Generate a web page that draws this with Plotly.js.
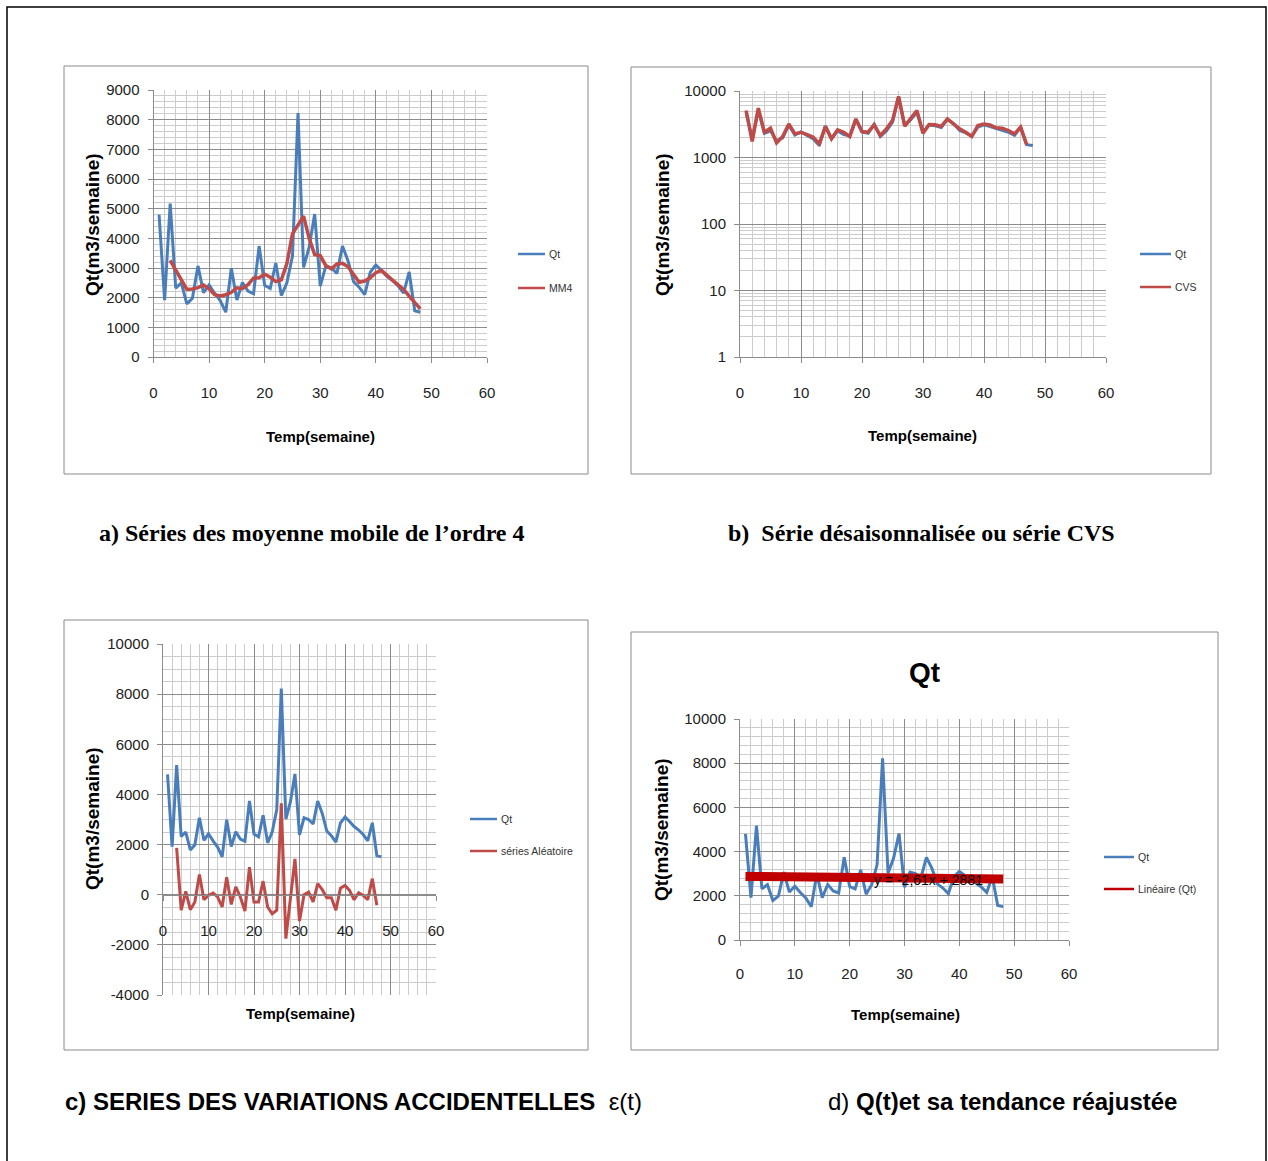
<!DOCTYPE html>
<html>
<head>
<meta charset="utf-8">
<script src="https://cdn.plot.ly/plotly-3.0.1.min.js"></script>
<style>
  html, body { margin: 0; padding: 0; background: #fff; }
  #fig { width: 1268px; height: 1161px; }
</style>
</head>
<body>
<div id="fig"></div>
<script>
// Weekly discharge Qt (m3/semaine), weeks 1..48
const weeks = [1,2,3,4,5,6,7,8,9,10,11,12,13,14,15,16,17,18,19,20,21,22,23,24,
               25,26,27,28,29,30,31,32,33,34,35,36,37,38,39,40,41,42,43,44,45,46,47,48];
const qt = [4800,1920,5170,2320,2500,1790,1980,3070,2170,2430,2150,1900,1510,2990,1920,2510,
            2220,2130,3740,2420,2310,3170,2070,2500,3400,8220,3020,3700,4820,2390,3070,3000,
            2820,3740,3240,2540,2350,2100,2860,3100,2920,2720,2580,2400,2150,2870,1560,1510];

// Moving average of order 4 (MM4), weeks 3..48
const mm4Weeks = weeks.slice(2);
const mm4 = [3260,2950,2600,2280,2290,2340,2430,2300,2100,2060,2100,2180,2330,2300,2440,2660,
             2670,2790,2690,2540,2600,3150,4150,4450,4750,4000,3450,3420,3080,2970,3140,3160,
             3040,2780,2520,2560,2670,2840,2920,2750,2580,2450,2280,2050,1820,1620];

// Seasonally adjusted series (CVS), weeks 1..47
const cvsWeeks = weeks.slice(0, 47);
const cvs = [5090,1740,5520,2400,2760,1660,2070,3200,2270,2400,2210,2020,1600,2930,1910,2610,
             2400,2070,3800,2460,2400,3100,2140,2700,3590,8260,2960,3900,5090,2320,3130,3100,
             2930,3800,3200,2700,2400,2070,3030,3200,3100,2790,2760,2550,2270,2860,1550];

// Random component (séries Aléatoire), weeks 3..47
const aleaWeeks = weeks.slice(2, 47);
const alea = [1870,-620,130,-600,-290,810,-200,-30,70,-90,-490,700,-390,310,-90,-650,1100,
              -290,-290,540,-490,-760,-620,3650,-1750,-230,1430,-1050,0,100,-290,440,200,
              -120,-120,-620,260,370,170,-200,80,-30,-200,640,-420];

// Linear trend fitted on Qt: y = -2,61x + 2881
const trendSlope = -2.61;
const trendIntercept = 2881;
const trendWeeks = [1, 48];
const trendLabel = 'y = -2,61x + 2881';

// Tick labels of chart c (hyphen minus as in the spreadsheet)
const cTickVals = [-4000, -2000, 0, 2000, 4000, 6000, 8000, 10000];
const cTickText = ['-4000', '-2000', '0', '2000', '4000', '6000', '8000', '10000'];

// Text
const yTitle = 'Qt(m3/semaine)';
const xTitle = 'Temp(semaine)';
const captionA = 'a) Séries des moyenne mobile de l’ordre 4';
const captionB = 'b)  Série désaisonnalisée ou série CVS';
const captionC = '<b>c) SERIES DES VARIATIONS ACCIDENTELLES</b>  ε(t)';
const captionD = 'd) <b>Q(t)et sa tendance réajustée</b>';

// ---- page geometry helpers (pixels -> paper fractions) ----
const W = 1268, H = 1161;
const px = x => x / W;
const py = y => 1 - y / H;

const BLUE = '#4A7EBB';
const RED = '#BE4B48';
const DARKRED = '#C00000';
const SANS = '"Liberation Sans", Arial, sans-serif';
const SERIF = '"Liberation Serif", "Times New Roman", serif';

function xAxis(domain, extra) {
  return Object.assign({
    domain: [px(domain[0]), px(domain[1])],
    range: [0, 60], dtick: 10, tick0: 0,
    showgrid: true, gridcolor: '#8c8c8c', gridwidth: 1,
    minor: { dtick: 2, showgrid: true, gridcolor: '#cccccc', gridwidth: 1 },
    showline: true, linecolor: '#8c8c8c', linewidth: 1,
    ticks: 'outside', ticklen: 5, tickcolor: '#8c8c8c',
    ticklabelstandoff: 17,
    tickfont: { family: SANS, size: 15, color: '#222' },
    zeroline: false, fixedrange: true
  }, extra || {});
}
function yAxis(domain, extra) {
  return Object.assign({
    domain: [py(domain[1]), py(domain[0])],
    showgrid: true, gridcolor: '#8c8c8c', gridwidth: 1,
    showline: true, linecolor: '#8c8c8c', linewidth: 1,
    ticks: 'outside', ticklen: 5, tickcolor: '#8c8c8c',
    ticklabelstandoff: 5, tickformat: 'd',
    tickfont: { family: SANS, size: 15, color: '#222' },
    zeroline: false, fixedrange: true
  }, extra || {});
}

const traces = [
  // a) Qt and MM4
  { x: weeks, y: qt, xaxis: 'x', yaxis: 'y', type: 'scatter', mode: 'lines',
    line: { color: BLUE, width: 3 }, name: 'Qt', showlegend: false },
  { x: mm4Weeks, y: mm4, xaxis: 'x', yaxis: 'y', type: 'scatter', mode: 'lines',
    line: { color: RED, width: 3.5 }, name: 'MM4', showlegend: false },
  // b) Qt and CVS (log scale)
  { x: weeks, y: qt, xaxis: 'x2', yaxis: 'y2', type: 'scatter', mode: 'lines',
    line: { color: BLUE, width: 3 }, name: 'Qt', showlegend: false },
  { x: cvsWeeks, y: cvs, xaxis: 'x2', yaxis: 'y2', type: 'scatter', mode: 'lines',
    line: { color: RED, width: 3.5 }, name: 'CVS', showlegend: false },
  // c) Qt and random component
  { x: weeks, y: qt, xaxis: 'x3', yaxis: 'y3', type: 'scatter', mode: 'lines',
    line: { color: BLUE, width: 3 }, name: 'Qt', showlegend: false },
  { x: aleaWeeks, y: alea, xaxis: 'x3', yaxis: 'y3', type: 'scatter', mode: 'lines',
    line: { color: RED, width: 3 }, name: 'séries Aléatoire', showlegend: false },
  // d) Qt and its linear trend
  { x: weeks, y: qt, xaxis: 'x4', yaxis: 'y4', type: 'scatter', mode: 'lines',
    line: { color: BLUE, width: 3 }, name: 'Qt', showlegend: false },
  { x: trendWeeks, y: trendWeeks.map(w => trendSlope * w + trendIntercept),
    xaxis: 'x4', yaxis: 'y4', type: 'scatter', mode: 'lines',
    line: { color: DARKRED, width: 9 }, name: 'Linéaire (Qt)', showlegend: false }
];

// chart frames (light gray) and outer page frame
const shapes = [
  { type: 'rect', xref: 'paper', yref: 'paper', x0: px(7), x1: px(1266), y0: py(1175), y1: py(7),
    line: { color: '#000', width: 1.5 } },
  { type: 'rect', xref: 'paper', yref: 'paper', x0: px(64), x1: px(588), y0: py(474), y1: py(66),
    line: { color: '#8a8a8a', width: 1 } },
  { type: 'rect', xref: 'paper', yref: 'paper', x0: px(631), x1: px(1211), y0: py(474), y1: py(67),
    line: { color: '#8a8a8a', width: 1 } },
  { type: 'rect', xref: 'paper', yref: 'paper', x0: px(64), x1: px(588), y0: py(1050), y1: py(620),
    line: { color: '#8a8a8a', width: 1 } },
  { type: 'rect', xref: 'paper', yref: 'paper', x0: px(631), x1: px(1218), y0: py(1050), y1: py(632),
    line: { color: '#8a8a8a', width: 1 } }
];

const annotations = [];
function text(t, x, y, opts) {
  annotations.push(Object.assign({
    text: t, xref: 'paper', yref: 'paper', x: px(x), y: py(y),
    showarrow: false, xanchor: 'center', yanchor: 'middle',
    font: { family: SANS, size: 12, color: '#222' }
  }, opts || {}));
}
// legend keys: short line followed by label
function legendItem(label, color, x0, x1, y, w) {
  shapes.push({ type: 'line', xref: 'paper', yref: 'paper', x0: px(x0), x1: px(x1), y0: py(y), y1: py(y),
    line: { color: color, width: w || 2.5 } });
  text(label, x1 + 2, y, { xanchor: 'left', font: { family: SANS, size: 10.5, color: '#333' } });
}

// axis titles
const yTitleFont = { family: SANS, size: 19, color: '#000' };
const xTitleFont = { family: SANS, size: 15, color: '#000' };
[[92, 225], [662, 225], [92, 819], [662, 830]].forEach(p =>
  text('<b>' + yTitle + '</b>', p[0], p[1], { textangle: -90, font: yTitleFont }));
[[320, 436], [922, 435], [300, 1013], [905, 1014]].forEach(p =>
  text('<b>' + xTitle + '</b>', p[0], p[1], { font: xTitleFont }));

// legends
legendItem('Qt', BLUE, 518, 545, 254);
legendItem('MM4', RED, 518, 545, 288);
legendItem('Qt', BLUE, 1140, 1171, 254);
legendItem('CVS', RED, 1140, 1171, 287);
legendItem('Qt', BLUE, 470, 497, 819);
legendItem('séries Aléatoire', RED, 470, 497, 851);
legendItem('Qt', BLUE, 1104, 1134, 857);
legendItem('Linéaire (Qt)', DARKRED, 1104, 1134, 889);

// chart d title and trend equation
text('<b>Qt</b>', 924, 672, { font: { family: SANS, size: 28, color: '#000' } });
text(trendLabel, 928, 880, { font: { family: SANS, size: 14, color: '#000' } });

// captions
text('<b>' + captionA + '</b>', 97, 533, { xanchor: 'left', font: { family: SERIF, size: 24, color: '#000' } });
text('<b>' + captionB + '</b>', 726, 533, { xanchor: 'left', font: { family: SERIF, size: 24, color: '#000' } });
text(captionC, 63, 1101, { xanchor: 'left', font: { family: SANS, size: 24, color: '#000' } });
text(captionD, 826, 1101, { xanchor: 'left', font: { family: SANS, size: 24, color: '#000' } });

const layout = {
  width: W, height: H,
  margin: { l: 0, r: 0, t: 0, b: 0 },
  paper_bgcolor: '#fff', plot_bgcolor: '#fff',
  showlegend: false,
  // a)
  xaxis: xAxis([153.5, 487], { anchor: 'y' }),
  yaxis: yAxis([90, 357], { anchor: 'x', range: [0, 9000], dtick: 1000,
    minor: { dtick: 200, showgrid: true, gridcolor: '#cccccc', gridwidth: 1 } }),
  // b)
  xaxis2: xAxis([740, 1106], { anchor: 'y2' }),
  yaxis2: yAxis([91, 357], { anchor: 'x2', type: 'log', range: [0, 4], dtick: 1,
    minor: { dtick: 'D1', showgrid: true, gridcolor: '#cccccc', gridwidth: 1 } }),
  // c)
  xaxis3: xAxis([163, 436], { anchor: 'free', position: py(894.5) }),
  yaxis3: yAxis([644, 995], { anchor: 'x3', range: [-4000, 10000],
    tickmode: 'array', tickvals: cTickVals, ticktext: cTickText,
    minor: { tickmode: 'linear', tick0: 0, dtick: 500, showgrid: true, gridcolor: '#cccccc', gridwidth: 1 } }),
  // d)
  xaxis4: xAxis([740, 1069], { anchor: 'y4', ticklabelstandoff: 15 }),
  yaxis4: yAxis([719, 940], { anchor: 'x4', range: [0, 10000], dtick: 2000,
    minor: { dtick: 400, showgrid: true, gridcolor: '#cccccc', gridwidth: 1 } }),
  shapes: shapes,
  annotations: annotations
};

Plotly.newPlot('fig', traces, layout, { staticPlot: true, displayModeBar: false });
</script>
</body>
</html>
